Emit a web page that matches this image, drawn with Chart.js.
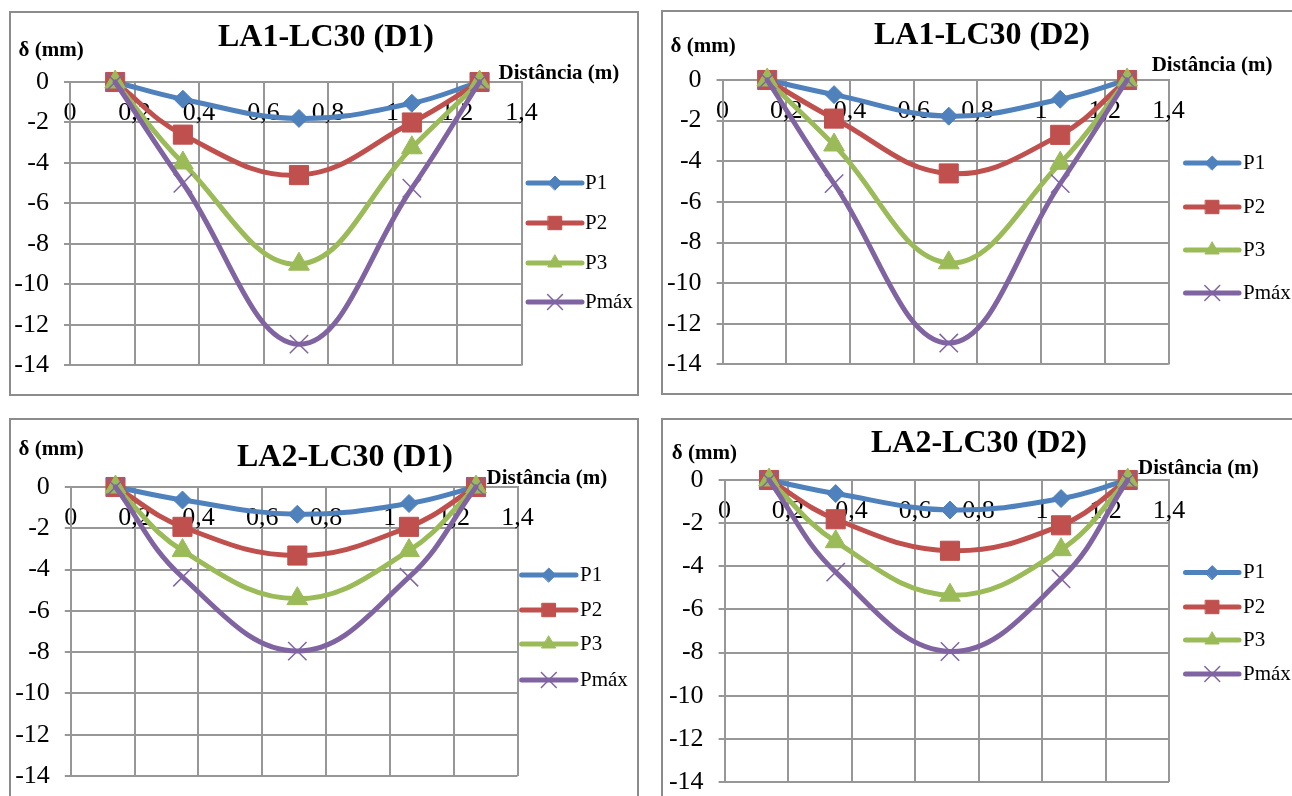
<!DOCTYPE html>
<html>
<head>
<meta charset="utf-8">
<script src="https://cdn.jsdelivr.net/npm/chart.js@4.4.1/dist/chart.umd.min.js"></script>
<style>
  html, body { margin: 0; padding: 0; background: #ffffff; }
  body { width: 1292px; height: 796px; overflow: hidden; position: relative;
         font-family: 'Liberation Serif', 'Times New Roman', serif; }
  .frame { position: absolute; border: 2px solid #8c8c8c; box-sizing: border-box; }
  canvas { position: absolute; }
  .txt { position: absolute; white-space: nowrap; line-height: 1; font-weight: bold; color: #000; }
</style>
</head>
<body>
<script>
// Measuring stations along the beam (m)
const distances = [0.14, 0.35, 0.71, 1.06, 1.27];
const xTickValues = [0, 0.2, 0.4, 0.6, 0.8, 1.0, 1.2, 1.4];
const yTickValues = [0, -2, -4, -6, -8, -10, -12, -14];
const seriesNames = ['P1', 'P2', 'P3', 'Pmáx'];
const chartTitles = ['LA1-LC30 (D1)', 'LA1-LC30 (D2)', 'LA2-LC30 (D1)', 'LA2-LC30 (D2)'];
const yAxisTitle = 'δ (mm)';
const xAxisTitle = 'Distância (m)';

// Deflections δ (mm) per load stage
const la1D1P1   = [0, -0.85, -1.80, -1.05, 0];
const la1D1P2   = [0, -2.60, -4.60, -2.00, 0];
const la1D1P3   = [0, -4.00, -9.00, -3.25, 0];
const la1D1Pmax = [0, -5.00, -12.95, -5.25, 0];

const la1D2P1   = [0, -0.72, -1.78, -0.95, 0];
const la1D2P2   = [0, -1.90, -4.60, -2.70, 0];
const la1D2P3   = [0, -3.20, -9.00, -4.10, 0];
const la1D2Pmax = [0, -5.10, -12.95, -5.10, 0];

const la2D1P1   = [0, -0.63, -1.32, -0.80, 0];
const la2D1P2   = [0, -1.93, -3.32, -1.93, 0];
const la2D1P3   = [0, -3.08, -5.41, -3.08, 0];
const la2D1Pmax = [0, -4.37, -7.95, -4.37, 0];

const la2D2P1   = [0, -0.63, -1.39, -0.86, 0];
const la2D2P2   = [0, -1.82, -3.28, -2.10, 0];
const la2D2P3   = [0, -2.86, -5.34, -3.23, 0];
const la2D2Pmax = [0, -4.27, -7.95, -4.58, 0];

// Styling
const seriesColors = ['#4F81BD', '#C0504D', '#9BBB59', '#8064A2'];
const markerStyles = [
  { style: 'rectRot',  r: 9,    bw: 1,   legendR: 7 },
  { style: 'rect',     r: 13.5, bw: 1,   legendR: 9.5 },
  { style: 'triangle', r: 12,   bw: 1,   legendR: 8 },
  { style: 'crossRot', r: 13,   bw: 1.5, legendR: 10.5 }
];
const gridColor = '#979797';
const tickFont = { family: "'Liberation Serif', 'Times New Roman', serif", size: 26 };

// Page placement of each panel
const panels = [
  { title: chartTitles[0], series: [la1D1P1, la1D1P2, la1D1P3, la1D1Pmax],
    frame: { l: 9, t: 11, w: 630, h: 385 },
    area: { l: 70, t: 82, r: 521.5, b: 365.7 },
    legend: { x1: 528, x2: 582, tx: 585, rows: [183, 223, 263, 302] },
    titlePos: { cx: 326, cy: 35 }, yTitlePos: { l: 18.5, cy: 49 }, xTitlePos: { l: 498.6, cy: 72 } },
  { title: chartTitles[1], series: [la1D2P1, la1D2P2, la1D2P3, la1D2Pmax],
    frame: { l: 661, t: 10, w: 640, h: 385 },
    area: { l: 722.6, t: 80, r: 1168.5, b: 373.3 },
    legend: { x1: 1185.5, x2: 1239, tx: 1243, rows: [163, 207, 250, 293] },
    titlePos: { cx: 982, cy: 33 }, yTitlePos: { l: 670.6, cy: 45 }, xTitlePos: { l: 1151.7, cy: 64 } },
  { title: chartTitles[2], series: [la2D1P1, la2D1P2, la2D1P3, la2D1Pmax],
    frame: { l: 9, t: 418, w: 630, h: 400 },
    area: { l: 70.8, t: 487, r: 517.5, b: 776 },
    legend: { x1: 521.6, x2: 576, tx: 580, rows: [575, 610, 644, 680] },
    titlePos: { cx: 345, cy: 454.5 }, yTitlePos: { l: 18.5, cy: 448 }, xTitlePos: { l: 486.6, cy: 477.6 } },
  { title: chartTitles[3], series: [la2D2P1, la2D2P2, la2D2P3, la2D2Pmax],
    frame: { l: 661, t: 418, w: 640, h: 400 },
    area: { l: 724.6, t: 480, r: 1169, b: 782 },
    legend: { x1: 1185.5, x2: 1239, tx: 1243, rows: [572.6, 607, 640, 674] },
    titlePos: { cx: 979, cy: 441 }, yTitlePos: { l: 671.8, cy: 452 }, xTitlePos: { l: 1138, cy: 467.7 } }
];

function fmtDistance(v) {
  return String(+(+v).toFixed(1)).replace('.', ',');
}

function addText(text, left, cy, size, centered) {
  const d = document.createElement('div');
  d.className = 'txt';
  d.textContent = text;
  d.style.fontSize = size + 'px';
  d.style.top = (cy - size / 2) + 'px';
  d.style.left = left + 'px';
  if (centered) d.style.transform = 'translateX(-50%)';
  document.body.appendChild(d);
}

function seriesKeyPlugin(p) {
  return {
    id: 'seriesKey',
    afterDraw(chart) {
      const ctx = chart.ctx;
      const L = p.legend;
      const ox = p.frame.l, oy = p.frame.t;
      chart.data.datasets.forEach((ds, i) => {
        const y = L.rows[i] - oy;
        const x1 = L.x1 - ox, x2 = L.x2 - ox;
        ctx.save();
        ctx.strokeStyle = ds.borderColor;
        ctx.lineWidth = 5;
        ctx.lineCap = 'round';
        ctx.beginPath();
        ctx.moveTo(x1, y);
        ctx.lineTo(x2, y);
        ctx.stroke();
        ctx.fillStyle = ds.pointBackgroundColor;
        ctx.strokeStyle = ds.pointBorderColor;
        ctx.lineWidth = markerStyles[i].bw;
        Chart.helpers.drawPoint(ctx, {
          pointStyle: markerStyles[i].style,
          radius: markerStyles[i].legendR,
          borderWidth: markerStyles[i].bw,
          rotation: 0
        }, (x1 + x2) / 2, y);
        ctx.fillStyle = '#000';
        ctx.font = "21px 'Liberation Serif', 'Times New Roman', serif";
        ctx.textBaseline = 'middle';
        ctx.textAlign = 'left';
        ctx.fillText(ds.label, L.tx - ox, y);
        ctx.restore();
      });
    }
  };
}

function buildPanel(p) {
  const frame = document.createElement('div');
  frame.className = 'frame';
  frame.style.left = p.frame.l + 'px';
  frame.style.top = p.frame.t + 'px';
  frame.style.width = p.frame.w + 'px';
  frame.style.height = p.frame.h + 'px';
  document.body.appendChild(frame);

  const canvas = document.createElement('canvas');
  canvas.width = p.frame.w;
  canvas.height = p.frame.h;
  canvas.style.left = p.frame.l + 'px';
  canvas.style.top = p.frame.t + 'px';
  document.body.appendChild(canvas);

  const a = {
    l: p.area.l - p.frame.l, t: p.area.t - p.frame.t,
    r: p.area.r - p.frame.l, b: p.area.b - p.frame.t
  };

  const datasets = p.series.map((vals, i) => ({
    label: seriesNames[i],
    data: distances.map((x, j) => ({ x: x, y: vals[j] })),
    borderColor: seriesColors[i],
    backgroundColor: seriesColors[i],
    borderWidth: 5,
    tension: 0.4,
    borderCapStyle: 'round',
    borderJoinStyle: 'round',
    fill: false,
    clip: false,
    pointStyle: markerStyles[i].style,
    pointRadius: markerStyles[i].r,
    pointBorderWidth: markerStyles[i].bw,
    pointBackgroundColor: seriesColors[i],
    pointBorderColor: seriesColors[i],
    order: seriesNames.length - i
  }));

  const xTicksAsc = xTickValues.slice().sort((m, n) => m - n);
  const yTicksAsc = yTickValues.slice().sort((m, n) => m - n);

  new Chart(canvas, {
    type: 'line',
    data: { datasets },
    options: {
      responsive: false,
      animation: false,
      devicePixelRatio: 1,
      events: [],
      layout: { padding: { left: 0, top: a.t, right: p.frame.w - a.r, bottom: p.frame.h - a.b } },
      plugins: { legend: { display: false }, tooltip: { enabled: false }, title: { display: false } },
      scales: {
        x: {
          type: 'linear',
          position: { y: 0 },
          min: xTicksAsc[0],
          max: xTicksAsc[xTicksAsc.length - 1],
          afterBuildTicks: s => { s.ticks = xTicksAsc.map(v => ({ value: v })); },
          grid: { color: gridColor, lineWidth: 2, drawTicks: false },
          border: { color: gridColor, width: 2 },
          ticks: { font: tickFont, color: '#000', padding: 16, maxRotation: 0, minRotation: 0,
                   autoSkip: false, callback: v => fmtDistance(v) }
        },
        y: {
          type: 'linear',
          position: 'left',
          min: yTicksAsc[0],
          max: yTicksAsc[yTicksAsc.length - 1],
          afterBuildTicks: s => { s.ticks = yTicksAsc.map(v => ({ value: v })); },
          afterFit: s => { s.width = a.l; },
          grid: { color: gridColor, lineWidth: 2, drawTicks: true, tickLength: 6 },
          border: { color: gridColor, width: 2 },
          ticks: { font: tickFont, color: '#000', padding: 15, callback: v => String(v) }
        }
      }
    },
    plugins: [seriesKeyPlugin(p)]
  });

  addText(p.title, p.titlePos.cx, p.titlePos.cy, 32, true);
  addText(yAxisTitle, p.yTitlePos.l, p.yTitlePos.cy, 21, false);
  addText(xAxisTitle, p.xTitlePos.l, p.xTitlePos.cy, 21, false);
}

panels.forEach(buildPanel);
</script>
</body>
</html>
